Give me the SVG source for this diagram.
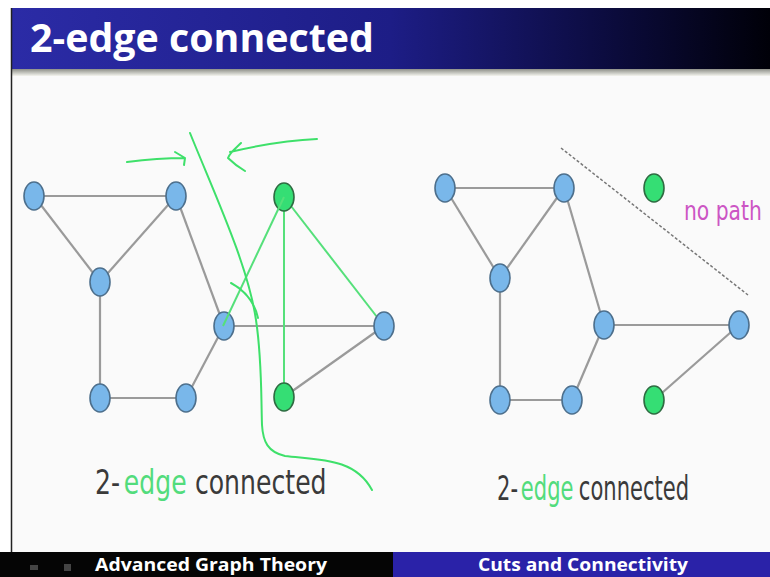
<svg xmlns="http://www.w3.org/2000/svg" width="770" height="577" viewBox="0 0 770 577">
<defs>
<linearGradient id="tg" x1="0" y1="0" x2="1" y2="0">
<stop offset="0" stop-color="#2b2ba6"/>
<stop offset="0.5" stop-color="#1d1d86"/>
<stop offset="0.78" stop-color="#0c0c40"/>
<stop offset="1" stop-color="#000008"/>
</linearGradient>
<linearGradient id="sh" x1="0" y1="0" x2="0" y2="1">
<stop offset="0" stop-color="#8d8f88"/>
<stop offset="1" stop-color="#f4f4ee"/>
</linearGradient>
</defs>
<style>
.e{stroke:#9a9a9a;stroke-width:2.2;fill:none}
.g{stroke:#55e07a;stroke-width:2;fill:none}
.ink{stroke:#3ee06a;stroke-width:2;fill:none;stroke-linecap:round;stroke-linejoin:round}
.b{fill:#79b7ea;stroke:#4d6f8c;stroke-width:1.6}
.n{fill:#35de74;stroke:#2f6b42;stroke-width:1.6}
.lbl{font-family:"DejaVu Sans",sans-serif;font-size:34px;fill:#3a3a3a}
.green{fill:#52dc7c}
.title{font-family:"Open Sans","Liberation Sans",sans-serif;font-weight:bold;fill:#fff}
</style>
<rect width="770" height="577" fill="#ffffff"/>
<rect x="11" y="8" width="759" height="544" fill="#fafafa"/>
<rect x="11" y="8" width="759" height="61" fill="url(#tg)"/>
<rect x="11" y="69" width="759" height="7" fill="url(#sh)"/>
<line x1="11.5" y1="8" x2="11.5" y2="552" stroke="#222" stroke-width="1.5"/>
<text class="title" x="30" y="52" font-size="40" textLength="344" lengthAdjust="spacingAndGlyphs">2-edge connected</text>
<rect x="0" y="552" width="393" height="25" fill="#050505"/>
<rect x="393" y="552" width="377" height="25" fill="#2a22a8"/>
<g fill="#444"><rect x="30" y="565" width="8" height="5"/><rect x="64" y="564" width="7" height="7"/></g>
<text class="title" x="95" y="571" font-size="18" textLength="232" lengthAdjust="spacingAndGlyphs">Advanced Graph Theory</text>
<text class="title" x="478" y="571" font-size="18" textLength="210" lengthAdjust="spacingAndGlyphs">Cuts and Connectivity</text>

<g id="connectors">
<line class="e" x1="34" y1="196" x2="176" y2="196"/>
<line class="e" x1="34" y1="196" x2="100" y2="282"/>
<line class="e" x1="176" y1="196" x2="100" y2="282"/>
<line class="e" x1="176" y1="196" x2="224" y2="326"/>
<line class="e" x1="100" y1="282" x2="100" y2="398"/>
<line class="e" x1="100" y1="398" x2="186" y2="398"/>
<line class="e" x1="186" y1="398" x2="224" y2="326"/>
<line class="e" x1="224" y1="326" x2="384" y2="326"/>
<line class="e" x1="384" y1="326" x2="284" y2="397"/>
<line class="g" x1="284" y1="197" x2="384" y2="326"/>
<line class="g" x1="284" y1="197" x2="284" y2="397"/>

<line class="e" x1="445" y1="188" x2="564" y2="188"/>
<line class="e" x1="445" y1="188" x2="500" y2="278"/>
<line class="e" x1="564" y1="188" x2="500" y2="278"/>
<line class="e" x1="564" y1="188" x2="604" y2="325"/>
<line class="e" x1="500" y1="278" x2="500" y2="400"/>
<line class="e" x1="500" y1="400" x2="572" y2="400"/>
<line class="e" x1="572" y1="400" x2="604" y2="325"/>
<line class="e" x1="604" y1="325" x2="739" y2="325"/>
<line class="e" x1="739" y1="325" x2="654" y2="400"/>
<line x1="561" y1="148" x2="748" y2="295" stroke="#777" stroke-width="1.5" stroke-dasharray="3,2"/>
</g>

<g id="left-graph">
<g id="n1"><ellipse class="b" cx="34" cy="196" rx="10" ry="14"/></g>
<g id="n2"><ellipse class="b" cx="176" cy="196" rx="10" ry="14"/></g>
<g id="n3"><ellipse class="b" cx="100" cy="282" rx="10" ry="14"/></g>
<g id="n4"><ellipse class="b" cx="224" cy="326" rx="10" ry="14"/></g>
<g id="n5"><ellipse class="b" cx="100" cy="398" rx="10" ry="14"/></g>
<g id="n6"><ellipse class="b" cx="186" cy="398" rx="10" ry="14"/></g>
<g id="n7"><ellipse class="n" cx="284" cy="197" rx="10" ry="14"/></g>
<g id="n8"><ellipse class="b" cx="384" cy="326" rx="10" ry="14"/></g>
<g id="n9"><ellipse class="n" cx="284" cy="397" rx="10" ry="14"/></g>
</g>
<line class="g" x1="284" y1="197" x2="223" y2="326"/>

<g id="right-graph">
<g id="m1"><ellipse class="b" cx="445" cy="188" rx="10" ry="14"/></g>
<g id="m2"><ellipse class="b" cx="564" cy="188" rx="10" ry="14"/></g>
<g id="m3"><ellipse class="b" cx="500" cy="278" rx="10" ry="14"/></g>
<g id="m4"><ellipse class="b" cx="604" cy="325" rx="10" ry="14"/></g>
<g id="m5"><ellipse class="b" cx="500" cy="400" rx="10" ry="14"/></g>
<g id="m6"><ellipse class="b" cx="572" cy="400" rx="10" ry="14"/></g>
<g id="m7"><ellipse class="n" cx="654" cy="188" rx="10" ry="14"/></g>
<g id="m8"><ellipse class="b" cx="739" cy="325" rx="10" ry="14"/></g>
<g id="m9"><ellipse class="n" cx="654" cy="400" rx="10" ry="14"/></g>
</g>

<g id="ink">
<path class="ink" d="M127,162 C150,159 170,158 185,158 M175,152 L185,158 L184,165"/>
<path class="ink" d="M317,139 C290,140 260,145 230,152 M241,143 C236,148 230,152 228,158 C234,164 240,168 245,171"/>
<path class="ink" d="M190,133 C215,195 248,265 256,320 C262,360 261,395 262,425 C263,442 268,452 285,456 C320,460 355,458 372,490"/>
<path class="ink" d="M231,283 C244,290 254,300 258,318"/>
</g>

<g transform="translate(95,494) scale(0.74,1)">
<text class="lbl" x="0" y="0">2-</text>
<text class="lbl green" x="39" y="0">edge</text>
<text class="lbl" x="135" y="0">connected</text>
</g>
<g transform="translate(497,500) scale(0.62,1)">
<text class="lbl" x="0" y="0">2-</text>
<text class="lbl green" x="38.5" y="0">edge</text>
<text class="lbl" x="132" y="0">connected</text>
</g>
<g transform="translate(684,220) scale(0.78,1)">
<text x="0" y="0" font-family="'DejaVu Sans',sans-serif" font-size="26" fill="#cc55c4">no path</text>
</g>
</svg>
